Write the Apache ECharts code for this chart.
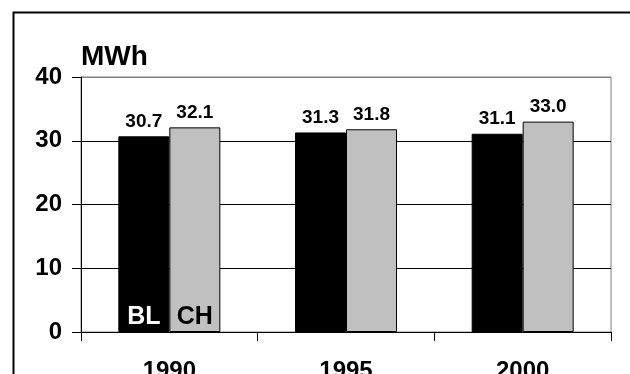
<!DOCTYPE html>
<html><head><meta charset="utf-8">
<script src="https://cdn.jsdelivr.net/npm/echarts@6/dist/echarts.min.js"></script>
<style>html,body{margin:0;padding:0;background:#fff}#c{width:630px;height:374px}</style>
</head><body><div id="c"></div>
<script>
const categories = ['1990', '1995', '2000'];
const blValues = [30.7, 31.3, 31.1];
const chValues = [32.1, 31.8, 33.0];
const seriesNames = ['BL', 'CH'];
const unitLabel = 'MWh';
const yMin = 0, yMax = 40, yStep = 10;

const FONT = "Arial, 'Liberation Sans', sans-serif";
const chart = echarts.init(document.getElementById('c'), null, {renderer: 'canvas'});

function inBarTag(name, color) {
  return {
    symbol: 'circle', symbolSize: 0,
    label: {show: true, position: 'top', distance: 2, formatter: name,
      color: color, fontFamily: FONT, fontWeight: 'bold', fontSize: 25},
    data: [{coord: [categories[0], 0]}]
  };
}

const valueLabel = {
  show: true, position: 'top', distance: 5,
  formatter: p => p.value.toFixed(1),
  color: '#000', fontFamily: FONT, fontWeight: 'bold', fontSize: 19
};

chart.setOption({
  animation: false,
  backgroundColor: '#fff',
  graphic: [{
    type: 'rect', left: 11, top: 10, silent: true,
    shape: {width: 700, height: 500},
    style: {fill: 'none', stroke: '#000', lineWidth: 2}
  }],
  grid: {left: 81, right: 19, top: 77, bottom: 42, show: true, containLabel: false,
    outerBoundsMode: 'none',
    borderColor: '#808080', borderWidth: 1, backgroundColor: 'transparent'},
  xAxis: {
    type: 'category', data: categories,
    axisLine: {lineStyle: {color: '#000', width: 1}},
    axisTick: {show: true, length: 9, alignWithLabel: false, lineStyle: {color: '#000'}},
    axisLabel: {margin: 27, color: '#000', fontFamily: FONT, fontWeight: 'bold', fontSize: 24},
    splitLine: {show: false}
  },
  yAxis: {
    type: 'value', min: yMin, max: yMax, interval: yStep,
    name: unitLabel, nameLocation: 'end', nameGap: 6,
    nameTextStyle: {align: 'left', color: '#000', fontFamily: FONT, fontWeight: 'bold', fontSize: 28},
    axisLine: {show: true, lineStyle: {color: '#000', width: 1}},
    axisTick: {show: true, length: 9, lineStyle: {color: '#000'}},
    axisLabel: {margin: 19, color: '#000', fontFamily: FONT, fontWeight: 'bold', fontSize: 24},
    splitLine: {show: true, lineStyle: {color: ['#000', '#000', '#000', '#000', '#808080'], width: 1}}
  },
  series: [
    {name: seriesNames[0], type: 'bar', data: blValues, barWidth: 51, barGap: '0%',
      itemStyle: {color: '#000', borderColor: '#000', borderWidth: 1},
      label: valueLabel, markPoint: inBarTag(seriesNames[0], '#fff')},
    {name: seriesNames[1], type: 'bar', data: chValues, barWidth: 51, barGap: '0%',
      itemStyle: {color: '#c0c0c0', borderColor: '#000', borderWidth: 1},
      label: valueLabel, markPoint: inBarTag(seriesNames[1], '#000')}
  ]
});
</script></body></html>
